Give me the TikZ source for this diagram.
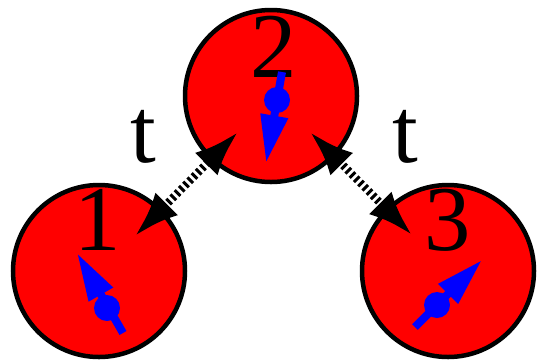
\documentclass[tikz,border=0pt]{standalone}
\usepackage{fontspec}
\setmainfont{Liberation Serif}
\usetikzlibrary{arrows.meta}
\begin{document}
\begin{tikzpicture}[x=1bp, y=-1bp,
  every node/.style={font=\fontsize{93}{93}\selectfont, inner sep=0pt},
  site/.style={circle, draw=black, fill=red, line width=4.5bp, minimum size=172bp},
  hop/.style={line width=8bp, dash pattern=on 3bp off 3bp,
    {Latex[length=45bp,width=32bp]}-{Latex[length=45bp,width=32bp]}},
  spin/.style={blue, line width=8bp, -{Triangle[length=48bp,width=26bp]}}]
  \useasboundingbox (0,0) rectangle (539,362);
  \node[site] (S1) at (99,271) {};
  \node[site] (S2) at (271,96) {};
  \node[site] (S3) at (448,271) {};
  \node (L1) at (98,220) {1};
  \node (L2) at (274,47) {2};
  \node (L3) at (448,220) {3};
  \node (T1) at (143,137) {t};
  \node (T2) at (405,137) {t};
  \coordinate (H1a) at (135,236);
  \coordinate (H1b) at (238,132);
  \coordinate (H2a) at (310,132);
  \coordinate (H2b) at (412,235);
  \draw[hop] (H1a)--(H1b);
  \draw[hop] (H2a)--(H2b);
  % spins
  \coordinate (A1) at (123,333);
  \coordinate (B1) at (77,253);
  \coordinate (A2) at (282,72);
  \coordinate (B2) at (266,163);
  \coordinate (A3) at (415,327);
  \coordinate (B3) at (482,260);
  \draw[spin] (A1)--(B1);
  \draw[spin] (A2)--(B2);
  \draw[spin] (A3)--(B3);
  \fill[blue] (107,308) circle (13);
  \fill[blue] (277,100) circle (13);
  \fill[blue] (437,305) circle (13);
\end{tikzpicture}
\end{document}
